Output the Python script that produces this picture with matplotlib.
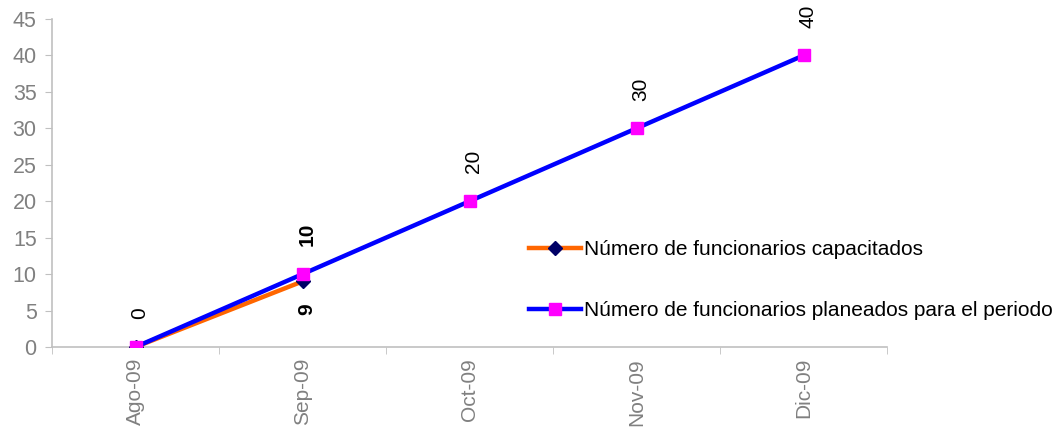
import matplotlib.pyplot as plt
import numpy as np

plt.rcParams['font.family'] = ['Liberation Sans', 'DejaVu Sans']

meses = ['Ago-09', 'Sep-09', 'Oct-09', 'Nov-09', 'Dic-09']
capacitados = [0, 9]
planeados = [0, 10, 20, 30, 40]
yticks = list(range(0, 50, 5))

gris = '#808080'
x = np.arange(len(meses))

fig = plt.figure(figsize=(10.58, 4.34), dpi=100)
ax = fig.add_axes([52 / 1058, 87 / 434, 835 / 1058, 328 / 434])

ax.plot(x[:len(capacitados)], capacitados, color='#ff6600', lw=3.2,
        marker='D', ms=7, mfc='#000066', mec='#000066', zorder=3,
        label='Número de funcionarios capacitados')
ax.plot(x, planeados, color='#0000ff', lw=3.2,
        marker='s', ms=8.5, mfc='#ff00ff', mec='#ff00ff', zorder=4,
        label='Número de funcionarios planeados para el periodo')

# etiquetas de datos
for i, v in enumerate(planeados):
    peso = 'bold' if i == 1 else 'normal'
    ax.annotate(str(v), (x[i], v), xytext=(3, 20), textcoords='offset points',
                rotation=90, ha='center', va='bottom', fontsize=15,
                fontweight=peso, color='black')
for i, v in enumerate(capacitados[1:], start=1):
    ax.annotate(str(v), (x[i], v), xytext=(3, -16), textcoords='offset points',
                rotation=90, ha='center', va='top', fontsize=15,
                fontweight='bold', color='black')

ax.set_xlim(-0.5, len(meses) - 0.5)
ax.set_ylim(0, 45)
ax.set_yticks(yticks)
ax.set_xticks(x)
ax.set_xticklabels(meses, rotation=90)
ax.set_xticks(np.arange(-0.5, len(meses), 1), minor=True)
ax.tick_params(axis='x', which='major', length=0, pad=8, labelsize=15, labelcolor=gris)
ax.tick_params(axis='x', which='minor', length=5, color='#c0c0c0', direction='out')
ax.tick_params(axis='y', length=5, color='#c0c0c0', labelsize=15.5, labelcolor=gris, pad=6)

for s in ['top', 'right']:
    ax.spines[s].set_visible(False)
for s in ['left', 'bottom']:
    ax.spines[s].set_color('#c0c0c0')
    ax.spines[s].set_linewidth(1.2)

fig.legend(loc='upper left', bbox_to_anchor=(521 / 1058, 1 - 232 / 434),
           frameon=False, fontsize=15, handlelength=2.5, handletextpad=0.1,
           labelspacing=2.0, borderaxespad=0)

fig.savefig('out.png', dpi=100)
